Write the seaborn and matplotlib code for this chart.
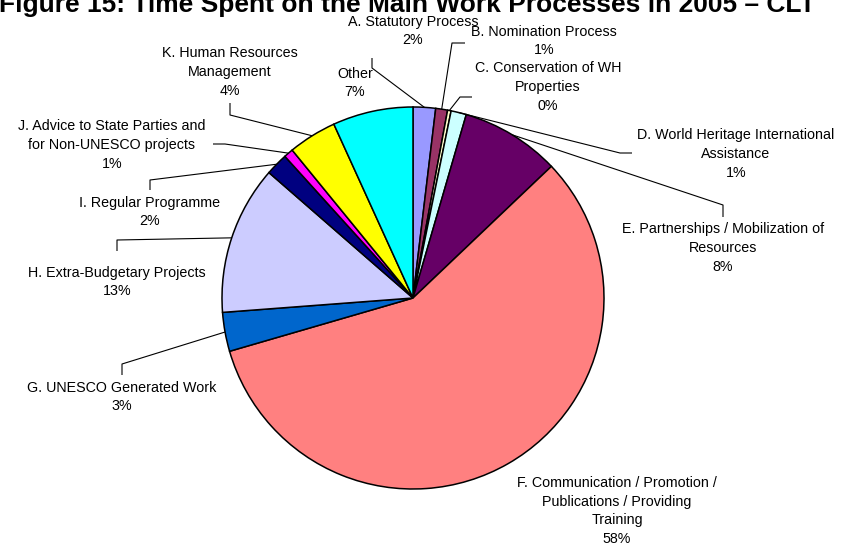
import numpy as np
import matplotlib
matplotlib.use("Agg")
import matplotlib.pyplot as plt
import seaborn as sns

# time shares per work process (percent), clockwise from 12 o'clock
processes = [
    "A. Statutory Process",
    "B. Nomination Process",
    "C. Conservation of WH\nProperties",
    "D. World Heritage International\nAssistance",
    "E. Partnerships / Mobilization of\nResources",
    "F. Communication / Promotion /\nPublications / Providing\nTraining",
    "G. UNESCO Generated Work",
    "H. Extra-Budgetary Projects",
    "I. Regular Programme",
    "J. Advice to State Parties and\nfor Non-UNESCO projects",
    "K. Human Resources\nManagement",
    "Other",
]
shares = [1.9, 1.0, 0.3, 1.3, 8.4, 57.6, 3.3, 12.6, 1.9, 0.8, 4.1, 6.8]
pct_labels = ["2%", "1%", "0%", "1%", "8%", "58%", "3%", "13%", "2%", "1%", "4%", "7%"]

colors = ["#9999FF", "#993366", "#FFFFCC", "#CCFFFF", "#660066", "#FF8080",
          "#0066CC", "#CCCCFF", "#000080", "#FF00FF", "#FFFF00", "#00FFFF"]

title = "Figure 15: Time Spent on the Main Work Processes in 2005 \u2013 CLT"

W, H = 841, 543
CX, CY, R = 413, 298, 191

# label layout in image pixels: text centre, then leader start and elbow
label_pos = [(413, 31), (544, 41), (548, 87), (736, 154), (723, 248), (617, 511),
             (122, 397), (117, 282), (150, 212), (112, 145), (230, 72), (355, 83)]
leaders = [
    [(372, 58), (372, 68)],
    [(465, 43), (452, 43)],
    [(472, 97), (460, 97)],
    [(632, 153), (620, 153)],
    [(723, 217), (723, 205)],
    None,
    [(122, 375), (122, 364)],
    [(117, 251), (117, 240)],
    [(150, 190), (150, 180)],
    [(213, 144), (225, 144)],
    [(230, 103), (230, 115)],
    None,
]

sns.set_theme(style="white")
plt.rcParams["font.family"] = ["Liberation Sans", "DejaVu Sans"]

fig = plt.figure(figsize=(W / 100, H / 100), dpi=100)
ax = fig.add_axes([0, 0, 1, 1])

wedges, _ = ax.pie(
    shares,
    colors=colors,
    startangle=90,
    counterclock=False,
    center=(CX, H - CY),
    radius=R,
    wedgeprops=dict(edgecolor="black", linewidth=1.1),
    frame=True,
)
ax.set_xlim(0, W)
ax.set_ylim(0, H)
ax.set_aspect("equal")
ax.axis("off")

for i, w in enumerate(wedges):
    tx, ty = label_pos[i]
    ax.text(tx, H - ty, processes[i] + "\n" + pct_labels[i], ha="center", va="center",
            fontsize=10.3, linespacing=1.42, color="black")
    if leaders[i] is not None:
        mid = np.deg2rad((w.theta1 + w.theta2) / 2)
        ex = CX + R * np.cos(mid)
        ey = (H - CY) + R * np.sin(mid)
        xs = [p[0] for p in leaders[i]] + [ex]
        ys = [H - p[1] for p in leaders[i]] + [ey]
        ax.plot(xs, ys, color="black", linewidth=0.8, solid_capstyle="butt")

fig.text(407 / W, 1 - 12 / H, title, ha="center", va="baseline",
         fontsize=19, fontweight="bold", color="black")

fig.savefig("out.png", dpi=100)
